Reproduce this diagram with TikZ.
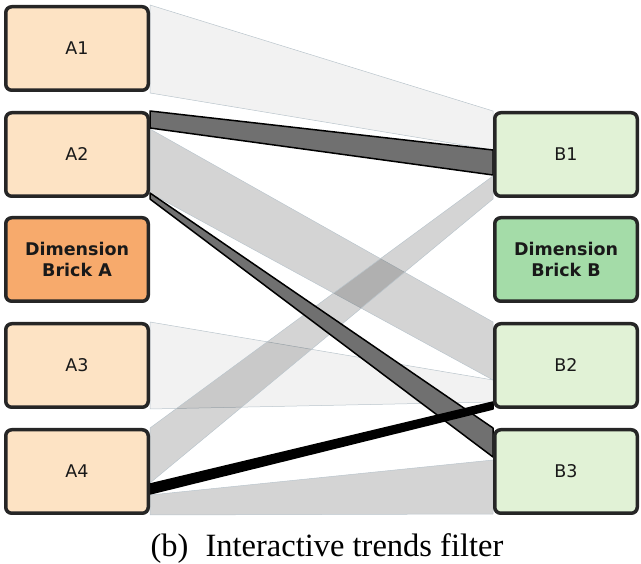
\documentclass[tikz,border=0pt]{standalone}
\usepackage{fontspec}
\setmainfont{Liberation Serif}
\newfontfamily\brickfont{DejaVu Sans}
\usetikzlibrary{backgrounds}

\definecolor{peach}{HTML}{FDE3C4}
\definecolor{orangebrick}{HTML}{F7AA6C}
\definecolor{mint}{HTML}{E1F2D6}
\definecolor{greenbrick}{HTML}{A4DCA8}
\definecolor{brickedge}{HTML}{262626}
\definecolor{bandedge}{HTML}{BAC5CC}
\definecolor{bandgray}{HTML}{707070}

\tikzset{
  brick/.style={draw=brickedge, line width=3.5pt, rounded corners=6pt,
    minimum width=142.5pt, minimum height=83.5pt, inner sep=0pt,
    align=center, text=black!90, font=\brickfont\fontsize{17.5}{20}\selectfont},
  abrick/.style={brick, fill=peach},
  bbrick/.style={brick, fill=mint},
  dimbrick/.style={brick, font=\brickfont\bfseries\fontsize{17.5}{21}\selectfont},
  faintband/.style={fill=black, fill opacity=0.05, draw=bandedge, line width=0.5pt},
  lightband/.style={fill=black, fill opacity=0.17, draw=bandedge, line width=0.5pt},
  darkband/.style={fill=bandgray, draw=black, line width=1.5pt, line join=round},
  blackband/.style={fill=black, draw=black, line width=1.5pt, line join=round},
}

% band between two bricks: style, left brick, top, bottom, right brick, top, bottom
\newcommand{\ribbon}[7]{%
  \path[#1] ([yshift=-#3pt]#2.north east) -- ([yshift=-#6pt]#5.north west)
    -- ([yshift=-#7pt]#5.north west) -- ([yshift=-#4pt]#2.north east) -- cycle;}

\begin{document}
\begin{tikzpicture}[x=1pt,y=-1pt]

\useasboundingbox (0,0) rectangle (641,564);

% Dimension A
\node[abrick] (a1) at (77,48.5) {A1};
\node[abrick] (a2) at (77,154.5) {A2};
\node[dimbrick, fill=orangebrick] (dima) at (77,259.5) {Dimension\\Brick A};
\node[abrick] (a3) at (77,365.5) {A3};
\node[abrick] (a4) at (77,471.5) {A4};

% Dimension B
\node[bbrick] (b1) at (566,154.5) {B1};
\node[dimbrick, fill=greenbrick] (dimb) at (566,259.5) {Dimension\\Brick B};
\node[bbrick] (b2) at (566,365.5) {B2};
\node[bbrick] (b3) at (566,471.5) {B3};

% Trends between the bricks
\begin{scope}[on background layer]
\ribbon{faintband}{a1}{0}{88}{b1}{0}{39}
\ribbon{faintband}{a3}{0}{87}{b2}{58}{80}
\ribbon{lightband}{a2}{18}{82}{b2}{0}{58}
\ribbon{lightband}{a4}{0}{55}{b1}{65}{88}
\ribbon{lightband}{a4}{67}{87}{b3}{32}{86}
\ribbon{darkband}{a2}{0}{17}{b1}{39}{64}
\ribbon{darkband}{a2}{82}{88}{b3}{0}{29}
\ribbon{blackband}{a4}{56}{66}{b2}{80}{87}
\end{scope}

% Caption
\node[anchor=base, font=\fontsize{32.5}{38}\selectfont] (caption) at (327,557)
  {(b)\hspace{17pt}Interactive trends filter};

\end{tikzpicture}
\end{document}
